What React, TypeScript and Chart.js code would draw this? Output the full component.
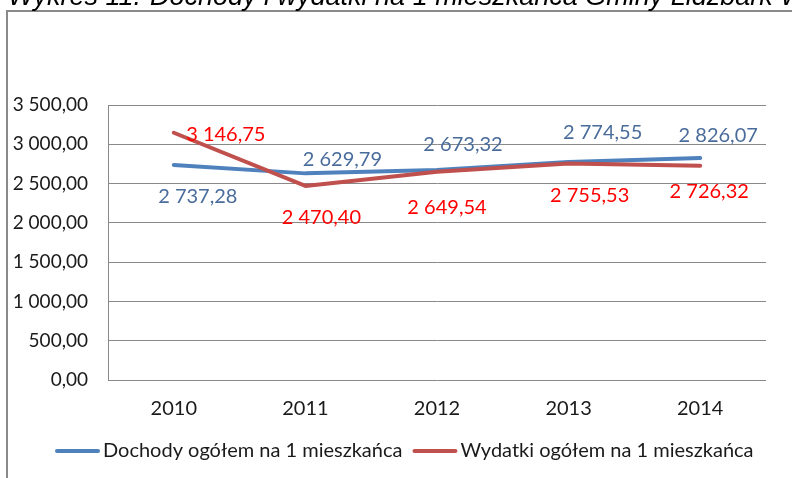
import React, { useEffect, useRef } from "react";
import { Chart, registerables } from "chart.js";

Chart.register(...registerables);

const years = ["2010", "2011", "2012", "2013", "2014"];
const dochody = [2737.28, 2629.79, 2673.32, 2774.55, 2826.07];
const wydatki = [3146.75, 2470.4, 2649.54, 2755.53, 2726.32];
const seriesNames = ["Dochody ogółem na 1 mieszkańca", "Wydatki ogółem na 1 mieszkańca"];
const yMin = 0;
const yMax = 3500;
const yStep = 500;
const titleNumber = "Wykres 11.";
const titleText = "Dochody i wydatki na 1 mieszkańca Gminy Lidzbark Warmiński";

// label offsets relative to each point (px)
const dochodyLabelOffsets = [[24, 32], [37, -14], [26, -25], [34, -29], [18, -22]];
const wydatkiLabelOffsets = [[52, 2], [16, 32], [10, 36], [21, 32], [9, 26]];

const BLUE = "#4F81BD";
const RED = "#C0504D";
const BLUE_TXT = "#4A6C9B";
const RED_TXT = "#FF0000";
const GRID = "#898989";
const FONT = "Lato";
const FS_Y = 19;
const FS = 20;

function fmt(v: number): string {
  const s = Math.abs(v).toFixed(2);
  const [i, d] = s.split(".");
  const withSp = i.replace(/\B(?=(\d{3})+(?!\d))/g, " ");
  return (v < 0 ? "-" : "") + withSp + "," + d;
}

const framePlugin = {
  id: "frame",
  beforeDraw(chart: any) {
    const ctx = chart.ctx;
    ctx.save();
    ctx.fillStyle = "#fff";
    ctx.fillRect(0, 0, chart.width, chart.height);
    ctx.strokeStyle = "#8a8a8a";
    ctx.lineWidth = 2;
    ctx.beginPath();
    ctx.moveTo(7, chart.height + 5);
    ctx.lineTo(7, 11);
    ctx.lineTo(chart.width + 5, 11);
    ctx.stroke();
    ctx.fillStyle = "#000";
    ctx.font = 'italic 27px "Liberation Sans"';
    ctx.textBaseline = "alphabetic";
    ctx.textAlign = "left";
    ctx.fillText(titleNumber, 8, 5);
    ctx.fillText(titleText, 150, 5);
    ctx.restore();
  },
};

const labelsPlugin = {
  id: "vals",
  afterDatasetsDraw(chart: any) {
    const ctx = chart.ctx;
    const offs = [dochodyLabelOffsets, wydatkiLabelOffsets];
    const cols = [BLUE_TXT, RED_TXT];
    ctx.save();
    ctx.font = `${FS}px ${FONT}`;
    ctx.textAlign = "center";
    ctx.textBaseline = "middle";
    chart.data.datasets.forEach((ds: any, di: number) => {
      const meta = chart.getDatasetMeta(di);
      meta.data.forEach((pt: any, i: number) => {
        ctx.fillStyle = cols[di];
        ctx.fillText(fmt(ds.data[i]), pt.x + offs[di][i][0], pt.y + offs[di][i][1]);
      });
    });
    ctx.restore();
  },
};

const legendPlugin = {
  id: "customLegend",
  afterDraw(chart: any) {
    const ctx = chart.ctx;
    const colors = [BLUE, RED];
    ctx.save();
    ctx.font = `${FS}px ${FONT}`;
    ctx.textBaseline = "middle";
    ctx.textAlign = "left";
    let x = 55;
    const y = 451;
    seriesNames.forEach((name, i) => {
      ctx.strokeStyle = colors[i];
      ctx.lineWidth = 4;
      ctx.lineCap = "round";
      ctx.beginPath();
      ctx.moveTo(x + 2, y);
      ctx.lineTo(x + 43, y);
      ctx.stroke();
      x += 48;
      ctx.fillStyle = "#1a1a1a";
      ctx.fillText(name, x, y);
      x += ctx.measureText(name).width + 10;
    });
    ctx.restore();
  },
};

export default function App() {
  const ref = useRef<HTMLCanvasElement>(null);
  useEffect(() => {
    const canvas = ref.current!;
    const chart = new Chart(canvas, {
      type: "line",
      data: {
        labels: years,
        datasets: [
          {
            label: seriesNames[0],
            data: dochody,
            borderColor: BLUE,
            backgroundColor: BLUE,
            borderWidth: 4,
            pointRadius: 0,
            tension: 0,
            order: 2,
            borderCapStyle: "round",
            borderJoinStyle: "round",
          },
          {
            label: seriesNames[1],
            data: wydatki,
            borderColor: RED,
            backgroundColor: RED,
            borderWidth: 4,
            pointRadius: 0,
            tension: 0,
            order: 1,
            borderCapStyle: "round",
            borderJoinStyle: "round",
          },
        ],
      },
      options: {
        responsive: false,
        animation: false,
        events: [],
        layout: { padding: { left: 0, top: 105, right: 26, bottom: 48 } },
        plugins: {
          legend: { display: false },
          tooltip: { enabled: false },
          title: { display: false },
        },
        scales: {
          x: {
            offset: true,
            grid: { display: false, drawTicks: false, offset: true },
            border: { display: false },
            ticks: { font: { family: FONT, size: FS }, color: "#1a1a1a", padding: 17, maxRotation: 0 },
            afterFit: (s: any) => {
              s.height = 50;
            },
          },
          y: {
            min: yMin,
            max: yMax,
            ticks: {
              stepSize: yStep,
              font: { family: FONT, size: FS_Y },
              color: "#1a1a1a",
              padding: 20,
              callback: (v: any) => fmt(Number(v)),
            },
            grid: { color: GRID, drawTicks: false, lineWidth: 1 },
            border: { display: true, color: GRID, width: 1 },
            afterFit: (s: any) => {
              s.width = 108;
            },
          },
        },
      },
      plugins: [framePlugin, labelsPlugin, legendPlugin],
    });
    return () => chart.destroy();
  }, []);
  return (
    <div style={{ position: "fixed", left: 0, top: 0, width: 792, height: 478, overflow: "hidden", background: "#fff" }}>
      <canvas ref={ref} width={792} height={478} style={{ width: 792, height: 478, display: "block" }} />
    </div>
  );
}
